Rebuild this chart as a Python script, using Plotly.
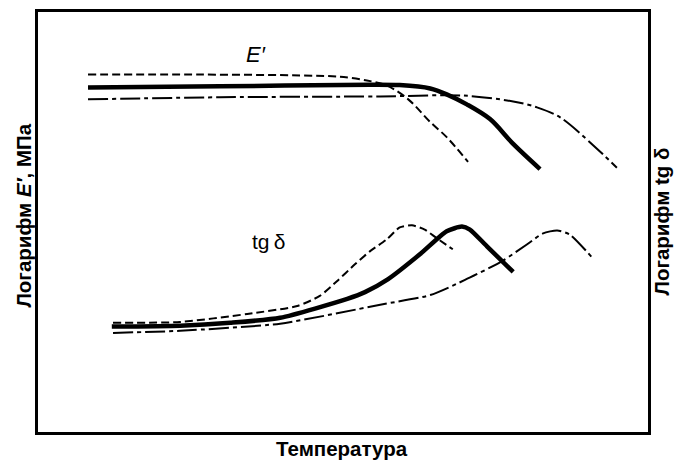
import plotly.graph_objects as go

# Temperature (arbitrary units) and log-values (arbitrary units)
e_dash_x = [8.2, 26.6, 43.0, 49.5, 53.9, 57.2, 60.7, 64.3, 67.0, 70.5]
e_dash_y = [85.1, 85.1, 84.9, 84.6, 83.7, 82.5, 79.2, 73.8, 70.2, 64.3]

e_solid_x = [8.2, 29.8, 54.4, 59.3, 64.3, 67.0, 70.3, 74.1, 77.9, 82.3]
e_solid_y = [82.0, 82.3, 82.7, 82.6, 81.8, 80.4, 78.0, 74.5, 68.6, 62.6]

e_dd_x = [8.2, 29.8, 56.1, 69.7, 77.9, 81.8, 85.6, 91.0, 94.9]
e_dd_y = [79.2, 79.7, 79.9, 80.1, 78.7, 77.3, 74.9, 68.3, 62.9]

t_dash_x = [12.3, 23.3, 34.3, 42.5, 46.2, 49.0, 52.0, 54.4, 57.2, 59.3, 61.3, 63.4, 65.4, 68.0]
t_dash_y = [26.0, 26.2, 28.1, 30.0, 32.4, 35.9, 40.0, 43.0, 45.9, 48.7, 49.2, 48.2, 46.1, 43.5]

t_solid_x = [12.1, 23.3, 31.5, 39.7, 50.7, 53.6, 57.4, 62.6, 67.0, 69.5, 70.8, 73.6, 77.9]
t_solid_y = [25.1, 25.3, 26.0, 27.2, 31.7, 33.3, 36.4, 42.3, 47.8, 48.9, 48.2, 44.2, 38.1]

t_dd_x = [12.3, 23.3, 39.7, 56.1, 64.3, 70.0, 76.1, 80.2, 82.8, 85.1, 87.2, 90.8]
t_dd_y = [23.6, 24.1, 25.8, 30.3, 32.6, 36.2, 40.7, 44.7, 47.3, 48.0, 47.0, 41.6]

DASH = "8px,4px"
DASHDOT = "20px,4px,4px,4px"

fig = go.Figure()

def add(x, y, width, dash, axis, smooth=0.6):
    fig.add_trace(go.Scatter(
        x=x, y=y, mode="lines", yaxis=axis,
        line=dict(color="black", width=width, dash=dash, shape="spline", smoothing=smooth),
        showlegend=False, hoverinfo="skip"))

add(e_dash_x, e_dash_y, 2, DASH, "y", 0.9)
add(e_solid_x, e_solid_y, 4.5, "solid", "y", 0.9)
add(e_dd_x, e_dd_y, 2, DASHDOT, "y", 0.9)
add(t_dash_x, t_dash_y, 2, DASH, "y2")
add(t_solid_x, t_solid_y, 4.5, "solid", "y2")
add(t_dd_x, t_dd_y, 2, DASHDOT, "y2")

axis_style = dict(showgrid=False, zeroline=False, showticklabels=False, ticks="",
                  showline=True, linecolor="black", linewidth=3, mirror=True)

fig.update_layout(
    width=675, height=464,
    margin=dict(l=38, r=27, t=9, b=32),
    paper_bgcolor="white", plot_bgcolor="white",
    xaxis=dict(range=[0, 100], **axis_style),
    yaxis=dict(range=[0, 100], **axis_style),
    yaxis2=dict(range=[0, 100], overlaying="y", side="right",
                showgrid=False, zeroline=False, showticklabels=False, ticks="", showline=False),
    font=dict(family="Liberation Sans", color="black"),
)

bold = dict(family="Liberation Sans", size=20.5, color="black")
fig.add_annotation(text="<b>Логарифм <i>E′</i>, МПа</b>", xref="paper", yref="paper",
                   x=(24 - 38) / 610, y=(432 - 214) / 423, textangle=-90, showarrow=False, font=bold,
                   xanchor="center", yanchor="middle")
fig.add_annotation(text="<b>Логарифм tg δ</b>", xref="paper", yref="paper",
                   x=(662 - 38) / 610, y=(432 - 220) / 423, textangle=-90, showarrow=False, font=bold,
                   xanchor="center", yanchor="middle")
fig.add_annotation(text="<b>Температура</b>", xref="paper", yref="paper",
                   x=(342 - 38) / 610, y=(432 - 449) / 423, showarrow=False, font=bold,
                   xanchor="center", yanchor="middle")

fig.add_annotation(text="<i>E′</i>", xref="paper", yref="paper",
                   x=(256 - 38) / 610, y=(432 - 52) / 423, showarrow=False,
                   xanchor="center", yanchor="middle",
                   font=dict(family="Liberation Sans", size=22, color="black"))
fig.add_annotation(text="tg\u2009δ", xref="paper", yref="paper",
                   x=(268 - 38) / 610, y=(432 - 240) / 423, showarrow=False,
                   xanchor="center", yanchor="middle",
                   font=dict(family="Liberation Sans", size=21, color="black"))

fig.write_html("out.html", config={"displayModeBar": False},
               post_script="document.body.style.margin='0px';")
